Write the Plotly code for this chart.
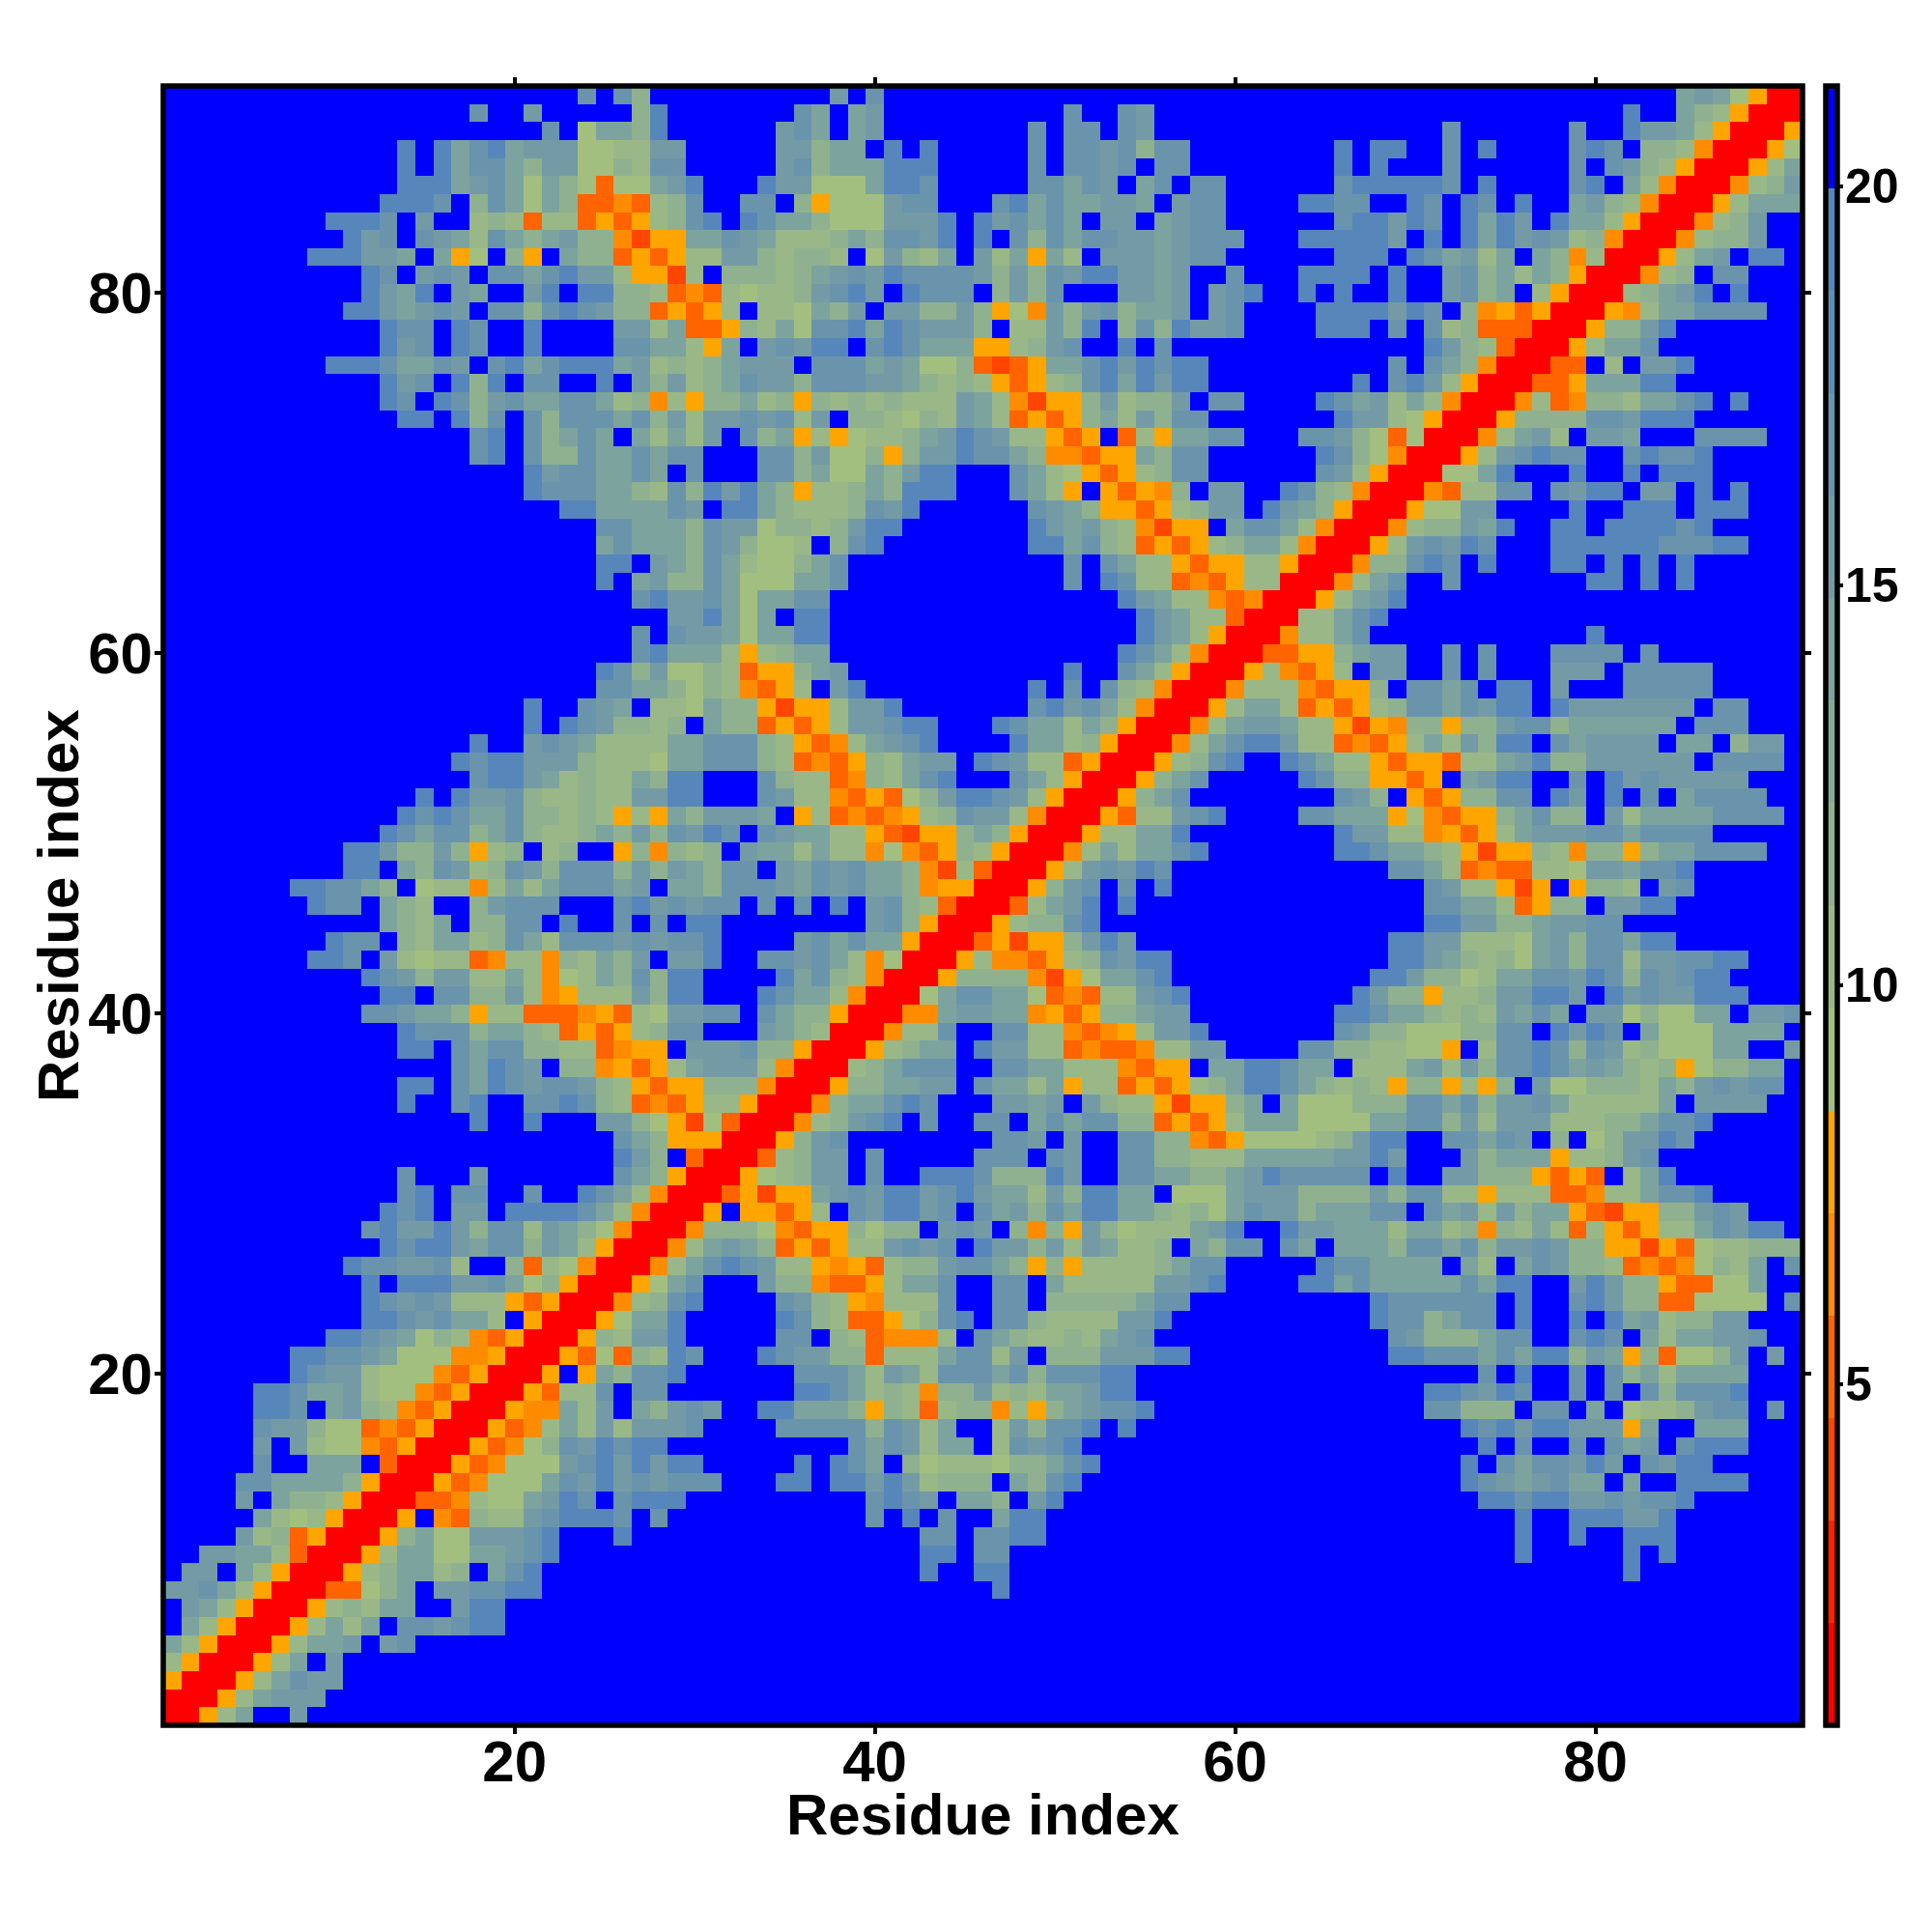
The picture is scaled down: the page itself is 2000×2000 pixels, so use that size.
import plotly.graph_objects as go

N_RESIDUES = 91
TICKS_AXIS = [20, 40, 60, 80]
TICKS_BAR = [5, 10, 15, 20]
AXIS_TITLE = "Residue index"

# Level codes: band value of the distance shown in each cell
LEVEL = {'R': 1.3, 'S': 3.9, 'T': 5.2, 'U': 6.5, 'V': 7.8, '2': 9.1, '3': 10.4, '4': 11.6,
         '5': 14.2, '6': 15.5, '7': 16.8, '8': 19.4, '.': 20.7}

BAND_COLORS = ["#ff0000", "#ff2200", "#ff4500", "#ff6400", "#ff8c00", "#ffa500",
               "#a3bf80", "#9ab887", "#90b18f", "#87aa96", "#7da39e", "#749ba5",
               "#6a94ac", "#618db4", "#5786bb", "#0000ff"]
ZMIN, ZMAX = 0.73, 21.26

# Row j (list index j-1), first char = column j, columns up to 30
ROWS_A = [
 "RRV35..6", "RRV35666", "RRV35766", "RRV35.6", "RRV3556.67", "RRV3535.776788",
 "RRV34355..688", "RRTT245.667788", "RRV345534.578", "RRV3552255678",
 "RRV452266678...8", "RRV.UT433678887.7", "RRTTU3225687.7888", "RRVTU222576867677",
 "RRVTU22267868688", "RRVTU24768788", "RRVTU353636667", "RRVUU536.5467",
 "RRVT337.77..", "RRV.V54778.", "RRVT2T4387", "RRV43668.", "RRV2558.", "RRU3478",
 "RRV257", "RRU35", "RRU3", "RRU", "RR", "R",
]

# Row j, first char = column max(31, j), columns up to 60
ROWS_B = [
 "", "", "", "", "", "", "",
 "................8",
 "............8..88",
 "............88.77",
 "............77.7788",
 ".........7.8.7..588",
 ".........7876.554.68",
 "7...88.886863444.5478",
 ".....8.875.42333244578",
 "........7576355.37678",
 "....7777747635..364778.8",
 "6..885554V43T344U3V456778",
 ".....8875343U44634355688",
 ".....7775365377757477788",
 "...876644T33357736.44466688",
 "....77.43TUUU3.7543343567",
 "....8743TTV2478.7743333668",
 "....7643VU3337..77.44444577",
 "...644UTTV3557..77.5333336678",
 "787633VUVT34467754V4V33334577",
 "5654TVTV336767.86646365334.547",
 "4442UTVV4244.676.4U4V642333568",
 "V.VVTV3.768867.756475885543425",
 "RTVSVV5676886786553648855.2225",
 "RRV23466.7..888744486..7755445",
 "RRT3466.7.....777.76..7744333",
 "RRV467........776.6..7744UTV",
 "RRU34678.7..77.5757744TVTV3",
 "RRU455787...6656.6433VSVV4",
 "RRV445566.75535V33TVTV345",
 "RR345777..7755333UTVV.55",
 "RRV3455.86633TUTTU3366.",
 "RRU337..7733UTUV3668",
 "RRUU56655UVTV44566",
 "RR2577552TUT33678",
 "RRV4444USV25578",
 "RRV3UUTV347688",
 "RRTVSVV4686",
 "RRV34478",
 "RRT3568.8",
 "RRV467.7.8",
 "RRV367687",
 "RRU3535578",
 "RRV33558",
 "RRVT33678",
 "RRV457",
 "RRV457",
 "RRV3478",
 "RRU357",
 "RRU35",
 "RRV3",
 "RRU",
 "RR",
 "R",
]

# Row j, first char = column max(61, j), columns up to 91
ROWS_C = [
 "", "", "", "", "", "", "", "",
 ".....................8",
 "...............8.....8.8",
 "...............8..8..888",
 "...............8..888668",
 ".............887886676778",
 "............87656755.5..8888",
 "............8.7577686.7688",
 ".............8.7..7.756.7888",
 "............878688666V5..555",
 "..........77444.77.5.2334677.7",
 "..........887687..7.7.747778",
 ".............7.8..7.74535555",
 "........8877757588465V4T2246.6",
 "........76444577..787.5355667",
 ".......8774577.8..8.85634466",
 ".......8777777.8..78644TT2222.7",
 "...8857555557588..68644VTT225",
 "....8775555.53.576443TUTU2435.7",
 "7.75.555477574667644VVSVT233444",
 "..86655535534U4353T3VTV3357688.",
 "766455577.75636455VTSVV44676",
 "6664444647733V333TTU335778",
 "6877777.8..66444VTVT.358",
 "555556686...64555V33467",
 "222234688..77576.4.246687",
 "55522225577463666333445778",
 "5.5222444775746675333335.6666",
 "88754343V44V3V4.62244435467677",
 "88755.333563647787565434V24455",
 "...77443322V.377874763422255..6",
 ".....76442224477.8687.52225555.",
 ".....8875543436575.66242255.667",
 "......8644V33466886.86766888",
 ".......88644235577687476788",
 "........88654342564773667788",
 "........8866333256477588",
 "..........88664456677",
 "..........77553TV44.6688",
 "..........7633VSV.V443.67",
 "........7753TUTT332665778",
 ".....8875543VSVV43U44V4557777",
 ".....86633UVTV356667757777",
 "...77555V2UTVV45744.6355557777",
 ".....764.VTV4477.86.8.7.57777",
 "...8744VVTV.5688..7.86766666",
 "..87533VTVVT3356844666666.7777",
 "88633TUTV3536488.756666.55.466",
 "66533VSVU44V446774555555.777",
 "553TVTV347757688.86666666.77",
 "333UTVV4.7757.88.6...77777",
 "V3UTV3.66..7.7...666.77777",
 "RTTVV4566..7.7...7777.7",
 "RRU3357............8",
 "RR33578",
 "RRV3568",
 "RRU357..7.......88.8.8",
 "RRU44787.8...88.8.8.8",
 "RRV367687...88888877788",
 "RRU344658..88.888878",
 "RRV2266....8..888.888",
 "RRUT3377.7688.66.8.8",
 "RR2258...8..8.888",
 "RRV367877..78778",
 "RRU3563.665...7777",
 "RRV4444776888",
 "RRU3TU4435578.8",
 "RRTTV55588",
 "RRTT.3.668",
 "RRV3557",
 "RRV4468",
 "RRVU3557777",
 "RR34568.8",
 "RRU34.77",
 "RRV356.88",
 "RRU3446",
 "RRU346",
 "RRV3555",
 "RRU346",
 "RRV35",
 "RRV2",
 "RRV",
 "RR",
 "R",
]

z = [[LEVEL['.']] * N_RESIDUES for _ in range(N_RESIDUES)]

def place(rows, first_col, last_col):
    for j, text in enumerate(rows, start=1):
        start = max(first_col, j)
        for k, ch in enumerate(text):
            col = start + k
            if col <= last_col:
                z[j - 1][col - 1] = LEVEL[ch]
                z[col - 1][j - 1] = LEVEL[ch]   # the map is symmetric

place(ROWS_A, 1, 30)
place(ROWS_B, 31, 60)
place(ROWS_C, 61, 91)

n = len(BAND_COLORS)
scale = []
for i, c in enumerate(BAND_COLORS):
    scale += [[i / n, c], [(i + 1) / n, c]]

residues = list(range(1, N_RESIDUES + 1))
FONT = "Liberation Sans"

fig = go.Figure(go.Heatmap(
    x=residues, y=residues, z=z, zmin=ZMIN, zmax=ZMAX, colorscale=scale,
    colorbar=dict(
        x=1.0139, xanchor="left", xpad=0, y=0.5, yanchor="middle", ypad=0,
        lenmode="fraction", len=1.0, thickness=12, thicknessmode="pixels",
        outlinewidth=5.5, outlinecolor="black", borderwidth=0,
        tickmode="array", tickvals=TICKS_BAR, showticklabels=False,
        ticks="outside", ticklen=4, tickwidth=4, tickcolor="black",
    ),
))

axis = dict(
    range=[0.5, 91.5], tickmode="array", tickvals=TICKS_AXIS,
    ticks="outside", ticklen=8, tickwidth=4, tickcolor="black",
    showline=False, mirror="allticks",
    showgrid=False, zeroline=False,
    tickfont=dict(family=FONT, size=60, color="black", weight=700),
)
title_font = dict(family=FONT, size=60, color="black", weight=700)
bar_font = dict(family=FONT, size=50, color="black", weight=700)

annotations = [
    dict(text=AXIS_TITLE, xref="paper", yref="paper", x=0.5, y=-0.0548,
         xanchor="center", yanchor="middle", showarrow=False, font=title_font),
    dict(text=AXIS_TITLE, xref="paper", yref="paper", x=-0.0642, y=0.4997,
         xanchor="center", yanchor="middle", textangle=-90, showarrow=False, font=title_font),
]
for t in TICKS_BAR:
    annotations.append(dict(text=str(t), xref="paper", yref="paper", x=1.0245,
                            y=(t - ZMIN) / (ZMAX - ZMIN), xanchor="left", yanchor="middle",
                            showarrow=False, font=bar_font))

fig.update_layout(
    width=2000, height=2000, autosize=False,
    margin=dict(l=169, r=134, t=89, b=214, pad=0),
    paper_bgcolor="white", plot_bgcolor="white",
    xaxis={**axis, "ticklabelstandoff": -23},
    yaxis={**axis, "ticklabelstandoff": -10},
    annotations=annotations,
    shapes=[dict(type="rect", xref="paper", yref="paper", x0=0, x1=1, y0=0, y1=1,
                 line=dict(color="black", width=5.5), layer="above")],
)
fig.write_html("out.html", post_script="document.body.style.margin='0';",
               config={"displayModeBar": False})
